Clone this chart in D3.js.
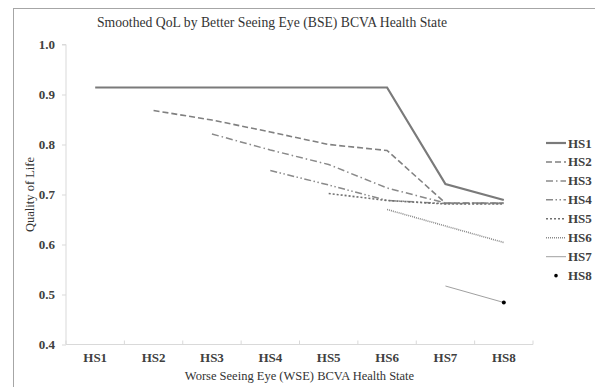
<!DOCTYPE html>
<html><head><meta charset="utf-8">
<script src="https://cdn.jsdelivr.net/npm/d3@7"></script>
<style>body{margin:0;background:#fff}svg{display:block}</style>
</head><body>
<svg id="c" width="595" height="387"></svg>
<script>
const categories = ["HS1","HS2","HS3","HS4","HS5","HS6","HS7","HS8"];
const seriesNames = ["HS1","HS2","HS3","HS4","HS5","HS6","HS7","HS8"];
const hs1 = [0.914,0.914,0.914,0.914,0.914,0.914,0.721,0.689];
const hs2 = [null,0.868,0.849,0.825,0.800,0.788,0.683,0.683];
const hs3 = [null,null,0.821,0.789,0.760,0.713,0.683,0.683];
const hs4 = [null,null,null,0.748,0.719,0.688,0.682,0.682];
const hs5 = [null,null,null,null,0.702,0.688,0.681,0.681];
const hs6 = [null,null,null,null,null,0.670,0.637,0.604];
const hs7 = [null,null,null,null,null,null,0.517,0.484];
const hs8 = [null,null,null,null,null,null,null,0.484];
const yTicks = [0.4,0.5,0.6,0.7,0.8,0.9,1.0];
const seriesData = [hs1,hs2,hs3,hs4,hs5,hs6,hs7,hs8];

const styles = [
  {stroke:"#7a7a7a", w:2.2, dash:null},
  {stroke:"#808080", w:1.6, dash:"6,3"},
  {stroke:"#8a8a8a", w:1.5, dash:"7,3,1.5,3"},
  {stroke:"#8a8a8a", w:1.5, dash:"7,2.5,1.5,2.5,1.5,2.5"},
  {stroke:"#707070", w:1.6, dash:"2,2"},
  {stroke:"#8a8a8a", w:1.6, dash:"1,1"},
  {stroke:"#a0a0a0", w:1, dash:null},
  {stroke:"#000", w:0, dash:null, dot:true}
];

const svg = d3.select("#c");
const font = "'Liberation Serif','Times New Roman',serif";
const txt = "#404040";

svg.append("rect").attr("x",13.5).attr("y",8.5).attr("width",700).attr("height",500)
  .attr("fill","none").attr("stroke","#a6a6a6").attr("stroke-width",1);

const x = d3.scaleBand().domain(categories).range([66,533]);
const y = d3.scaleLinear().domain([0.4,1.0]).range([344.5,44.5]);

// axes
const gy = svg.append("g").attr("transform","translate(66,0)")
  .call(d3.axisLeft(y).tickValues(yTicks).tickFormat(d3.format(".1f")).tickSize(4).tickPadding(7));
gy.select(".domain").attr("stroke","#d9d9d9").attr("d","M-4,44.5H0V344.5");
gy.selectAll(".tick line").attr("stroke","#d9d9d9");
gy.selectAll("text").attr("font-family",font).attr("font-size",13).attr("font-weight","bold").attr("fill",txt);

const gx = svg.append("g").attr("transform","translate(0,344.5)")
  .call(d3.axisBottom(x).tickSize(0).tickPadding(8));
gx.select(".domain").attr("stroke","#d9d9d9").attr("d","M66,0H533");
gx.selectAll("text").attr("font-family",font).attr("font-size",13).attr("font-weight","bold").attr("fill",txt);
// category boundary ticks
const bounds = categories.map(c=>x(c)).concat([x(categories[categories.length-1])+x.bandwidth()]);
gx.selectAll(".bt").data(bounds).enter().append("line")
  .attr("x1",d=>d).attr("x2",d=>d).attr("y1",0).attr("y2",-4).attr("stroke","#d9d9d9");

const line = d3.line().defined(d=>d.v!=null).x(d=>x(d.c)+x.bandwidth()/2).y(d=>y(d.v));

seriesData.forEach((arr,i)=>{
  const pts = arr.map((v,j)=>({c:categories[j],v}));
  const st = styles[i];
  if (st.dot) {
    svg.append("g").selectAll("circle").data(pts.filter(p=>p.v!=null)).enter().append("circle")
      .attr("cx",d=>x(d.c)+x.bandwidth()/2).attr("cy",d=>y(d.v)).attr("r",2).attr("fill","#000");
  } else {
    svg.append("path").datum(pts).attr("d",line).attr("fill","none")
      .attr("stroke",st.stroke).attr("stroke-width",st.w)
      .attr("stroke-dasharray",st.dash);
  }
});

// legend
const lg = svg.append("g");
seriesNames.forEach((n,i)=>{
  const yy = 143 + i*18.95;
  const st = styles[i];
  if (st.dot) {
    lg.append("circle").attr("cx",556).attr("cy",yy).attr("r",1.8).attr("fill","#000");
  } else {
    lg.append("line").attr("x1",546).attr("x2",566).attr("y1",yy).attr("y2",yy)
      .attr("stroke",st.stroke).attr("stroke-width",st.w).attr("stroke-dasharray",st.dash);
  }
  lg.append("text").attr("x",568).attr("y",yy+4.5).text(n)
    .attr("font-family",font).attr("font-size",13).attr("font-weight","bold").attr("fill",txt);
});

svg.append("text").attr("x",272).attr("y",27).attr("text-anchor","middle")
  .attr("font-family",font).attr("font-size",13.7).attr("fill","#333")
  .text("Smoothed QoL by Better Seeing Eye (BSE) BCVA Health State");
svg.append("text").attr("x",299.5).attr("y",380).attr("text-anchor","middle")
  .attr("font-family",font).attr("font-size",12.5).attr("fill","#333")
  .text("Worse Seeing Eye (WSE) BCVA Health State");
svg.append("text").attr("transform","translate(34,194.5) rotate(-90)").attr("text-anchor","middle")
  .attr("font-family",font).attr("font-size",12.5).attr("fill","#333")
  .text("Quality of Life");
</script>
</body></html>
